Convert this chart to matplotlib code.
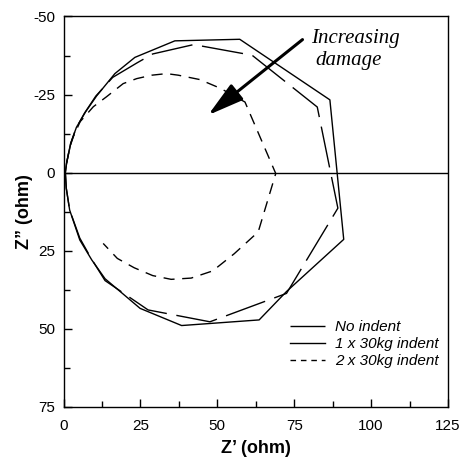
import matplotlib
matplotlib.use("Agg")
import matplotlib.pyplot as plt
from matplotlib.lines import Line2D
from matplotlib.patches import FancyArrowPatch
from matplotlib.ticker import MultipleLocator

# ---- data (Z' , Z'' in ohm) ----
no_indent_re = [0.6, 1.0, 2.4, 4.0, 6.8, 10.5, 16.0, 24.0, 29.0, 42.3, 61.3, 82.5, 89.2, 72.5, 47.6, 27.5, 13.5, 9.0, 5.3, 2.0, 0.9, 0.6]
no_indent_im = [0.0, -3.0, -9.5, -14.0, -19.0, -24.5, -30.5, -35.2, -38.0, -41.0, -37.6, -21.0, 11.4, 38.7, 47.8, 44.0, 34.6, 27.5, 21.0, 12.0, 5.0, 0.0]

one_indent_re = [0.6, 1.0, 2.3, 4.2, 7.2, 10.8, 16.7, 23.2, 36.2, 57.3, 86.6, 91.1, 72.5, 63.6, 38.4, 24.9, 13.5, 9.2, 5.3, 2.0, 0.9, 0.6]
one_indent_im = [0.0, -3.0, -9.3, -14.5, -19.5, -24.6, -31.7, -36.9, -42.2, -42.7, -23.3, 21.4, 38.1, 47.2, 49.0, 43.5, 34.0, 28.0, 21.6, 12.0, 5.0, 0.0]

two_indent_re = [1.0, 2.0, 3.2, 5.4, 9.7, 14.0, 19.4, 23.8, 28.7, 33.5, 37.3, 44.3, 51.0, 59.0, 69.0, 63.3, 55.5, 48.5, 41.5, 35.0, 29.0, 23.0, 17.5, 12.9]
two_indent_im = [-3.0, -8.0, -11.5, -16.3, -21.1, -24.3, -28.5, -30.1, -31.2, -31.7, -31.2, -29.8, -27.0, -22.6, 0.3, 19.0, 26.0, 31.5, 33.8, 34.2, 33.0, 30.5, 27.5, 22.7]

labels = ["No indent", "1 x 30kg indent", "2 x 30kg indent"]
x_ticks = [0, 25, 50, 75, 100, 125]
y_ticks = [-50, -25, 0, 25, 50, 75]

plt.rcParams['font.family'] = ['Liberation Sans', 'DejaVu Sans']
plt.rcParams['axes.unicode_minus'] = False

fig = plt.figure(figsize=(4.62, 4.65), dpi=100)
ax = fig.add_axes([63.5/462, 1-406.7/465, (448-63.5)/462, (406.7-16.5)/465])

ax.plot(no_indent_re, no_indent_im, color='black', lw=1.0, dashes=(30, 7))
ax.plot(one_indent_re, one_indent_im, color='black', lw=1.0)
ax.plot(two_indent_re, two_indent_im, color='black', lw=1.0, dashes=(8, 5.5))
ax.axhline(0, color='black', lw=1.0)

ax.set_xlim(0, 125)
ax.set_ylim(75, -50)
ax.set_xticks(x_ticks)
ax.set_yticks(y_ticks)
ax.xaxis.set_minor_locator(MultipleLocator(12.5))
ax.yaxis.set_minor_locator(MultipleLocator(12.5))
ax.tick_params(which='major', direction='in', length=6, width=1, labelsize=11)
ax.tick_params(which='minor', direction='in', length=4.5, width=1)
ax.tick_params(axis='x', which='major', pad=9)
ax.tick_params(axis='y', which='major', pad=6)
for s in ax.spines.values():
    s.set_linewidth(1.0)

ax.set_xlabel("Z\u2019 (ohm)", fontsize=13, fontweight='bold', labelpad=5)
ax.set_ylabel("Z\u201d (ohm)", fontsize=13, fontweight='bold', labelpad=0)

handles = [Line2D([], [], color='black', lw=1.0, dashes=(30, 1.5)),
           Line2D([], [], color='black', lw=1.0),
           Line2D([], [], color='black', lw=1.0, dashes=(4, 3.5))]
ax.legend(handles, labels, loc='upper left', bbox_to_anchor=(0.589, 0.222),
          frameon=False, borderaxespad=0, borderpad=0, handlelength=2.3,
          handletextpad=0.65, labelspacing=0.2,
          prop={'style': 'italic', 'size': 11})

ax.text(80.4, -41.4, "Increasing", family=['Liberation Serif'], style='italic', fontsize=15)
ax.text(82.0, -34.4, "damage", family=['Liberation Serif'], style='italic', fontsize=15)

arr = FancyArrowPatch((77.7, -42.6), (47.0, -18.4),
                      arrowstyle='-|>,head_length=22,head_width=6',
                      mutation_scale=1, lw=2.2, color='black',
                      shrinkA=0, shrinkB=0)
ax.add_patch(arr)

fig.savefig("out.png", dpi=100)
